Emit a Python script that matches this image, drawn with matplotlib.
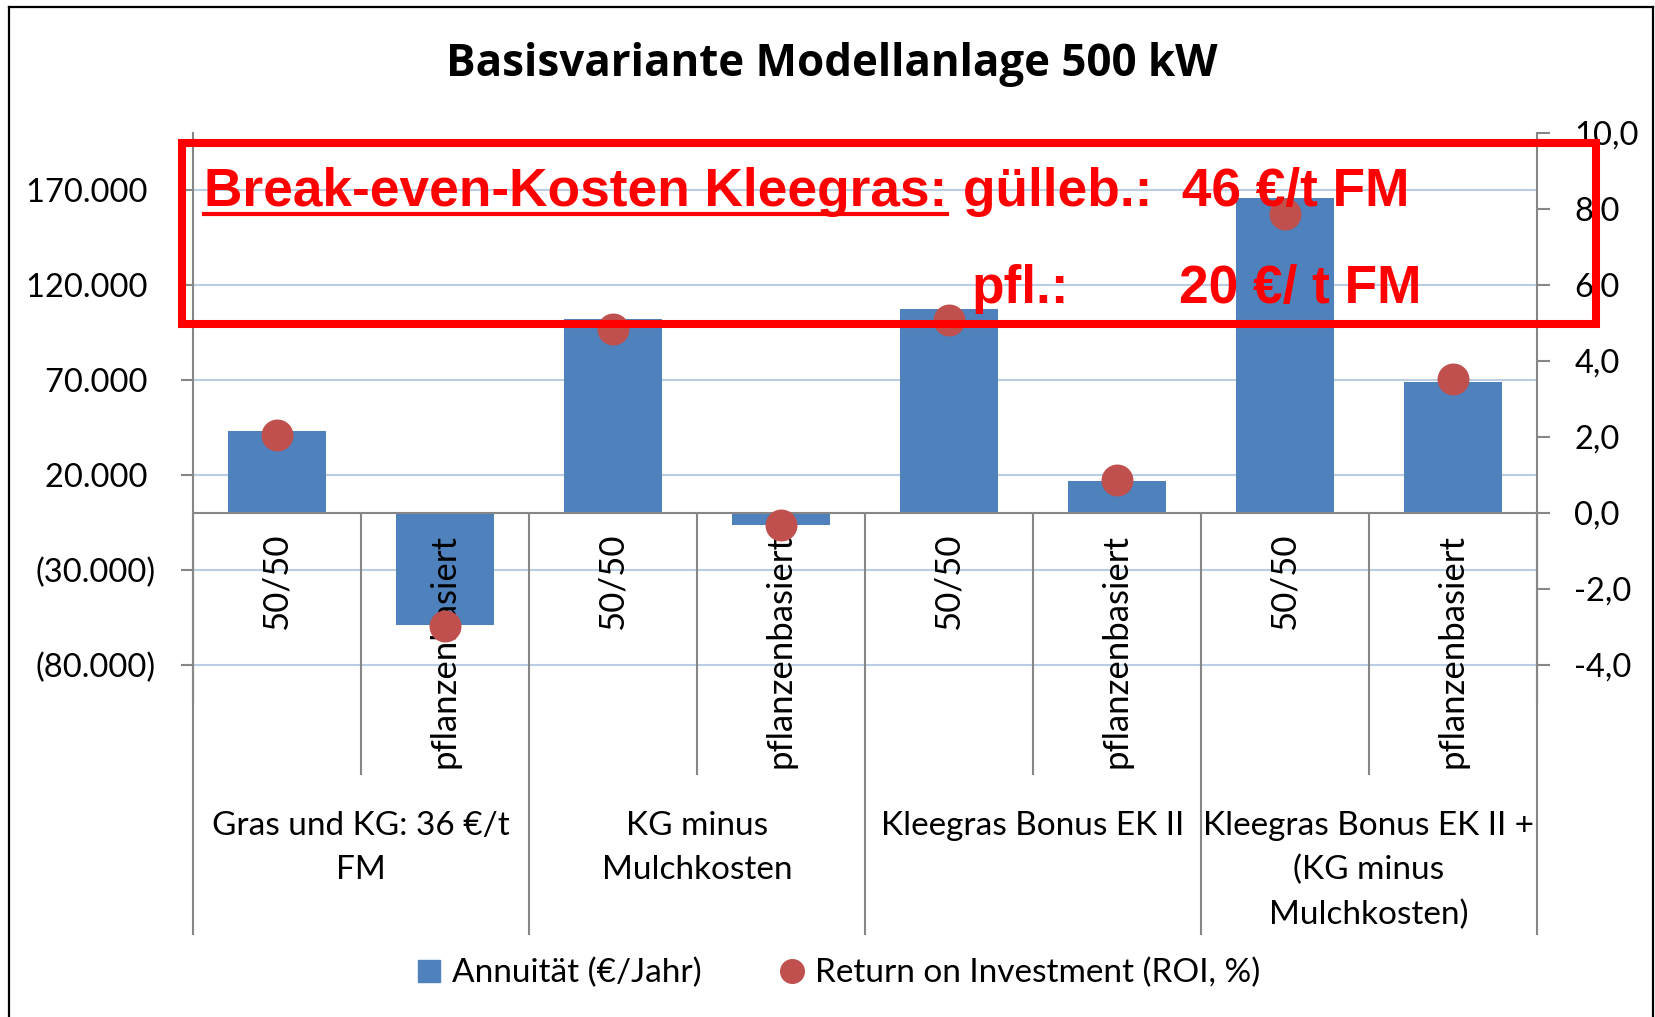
import matplotlib
matplotlib.use("Agg")
import matplotlib.pyplot as plt
from matplotlib.lines import Line2D
from matplotlib.patches import Rectangle, Patch
from matplotlib.ticker import FuncFormatter

plt.rcParams['font.family'] = ['Lato', 'DejaVu Sans']

# Daten
title = "Basisvariante Modellanlage 500 kW"
sub_labels = ["50/50", "pflanzenbasiert"] * 4
group_labels = ["Gras und KG: 36 €/t\nFM", "KG minus\nMulchkosten",
                "Kleegras Bonus EK II", "Kleegras Bonus EK II +\n(KG minus\nMulchkosten)"]
annuitaet = [43300, -58900, 102200, -6100, 107200, 16700, 165600, 68900]
roi = [2.06, -2.97, 4.83, -0.31, 5.08, 0.86, 7.86, 3.53]
left_ticks = [-80000, -30000, 20000, 70000, 120000, 170000]
right_ticks = [-4, -2, 0, 2, 4, 6, 8, 10]

BLUE = "#4F81BD"
RED_DOT = "#C0504D"
GRID = "#B9CDE5"
AXCOL = "#868686"
RED = "#FF0000"

fig = plt.figure(figsize=(16.55, 10.17), dpi=100)
ax = fig.add_axes([0.1166, 0.3088, 0.8121, 0.5605])
ax2 = ax.twinx()

x = list(range(len(annuitaet)))
ax.bar(x, annuitaet, width=0.585, color=BLUE, zorder=2)
ax.set_xlim(-0.5, 7.5)
ax.set_ylim(-100000, 200000)
ax.set_yticks(left_ticks)
ax.yaxis.set_major_formatter(FuncFormatter(
    lambda v, p: f"({abs(v):,.0f})".replace(",", ".") if v < 0 else f"{v:,.0f} ".replace(",", ".")))
ax.set_xticks([])
ax.yaxis.grid(True, color=GRID, lw=1.5, zorder=0)
ax.set_axisbelow(True)
ax.axhline(0, color=AXCOL, lw=1.5, zorder=3)
ax.tick_params(axis='y', direction='out', length=9, width=1.5, color=AXCOL,
               labelsize=23.5, pad=18)
for s in ["top", "bottom", "right"]:
    ax.spines[s].set_visible(False)
ax.spines["left"].set_color(AXCOL)
ax.spines["left"].set_linewidth(1.5)

ax2.plot(x, roi, "o", ms=22, color=RED_DOT, ls="none", zorder=4)
ax2.set_ylim(-5, 10)
ax2.set_yticks(right_ticks)
ax2.yaxis.set_major_formatter(FuncFormatter(lambda v, p: f"{v:.1f}".replace(".", ",")))
ax2.tick_params(axis='y', direction='out', length=9, width=1.5, color=AXCOL,
                labelsize=23.5, pad=18)
for s in ["top", "bottom", "left"]:
    ax2.spines[s].set_visible(False)
ax2.spines["right"].set_color(AXCOL)
ax2.spines["right"].set_linewidth(1.5)

# Kategorie-Trennlinien und Beschriftungen
tr = ax.get_xaxis_transform()
zero_frac = 1 / 3
for b in [-0.5, 1.5, 3.5, 5.5, 7.5]:
    ax.plot([b, b], [zero_frac, -0.405], color=AXCOL, lw=1.5, transform=tr, clip_on=False)
for b in [0.5, 2.5, 4.5, 6.5]:
    ax.plot([b, b], [zero_frac, -0.124], color=AXCOL, lw=1.5, transform=tr, clip_on=False)

for i, lab in enumerate(sub_labels):
    ax.annotate(lab, xy=(i, zero_frac), xycoords=tr, xytext=(0, -15),
                textcoords="offset points", rotation=90, ha="center", va="top",
                fontsize=25, zorder=5)

for g, lab in enumerate(group_labels):
    ax.text(2 * g + 0.5, -0.189, lab, transform=tr, ha="center", va="top",
            fontsize=24, linespacing=1.59)

fig.text(0.5027, 0.937, title, ha="center", va="center", fontsize=31.6,
         fontweight="bold", family=["Open Sans", "DejaVu Sans"])

# Legende
handles = [Patch(color=BLUE), Line2D([], [], marker="o", color=RED_DOT, ls="none", ms=17)]
fig.legend(handles, ["Annuität (€/Jahr)", "Return on Investment (ROI, %)"],
           loc="center", bbox_to_anchor=(0.507, 0.043), ncol=2, frameon=False,
           fontsize=24, handlelength=0.65, handleheight=0.65, handletextpad=0.35,
           columnspacing=2.4)

# roter Kasten mit Break-even-Text
fig.add_artist(Rectangle((0.1097, 0.6814), 0.8547, 0.1775, transform=fig.transFigure,
                         fill=False, ec=RED, lw=5.8, zorder=6))
rfont = dict(family=["Liberation Sans", "DejaVu Sans"], fontweight="bold", fontsize=38.3,
             color=RED, va="baseline", ha="left", zorder=7)
t1 = fig.text(0.1233, 0.7975, "Break-even-Kosten Kleegras:", **rfont)
fig.text(0.5817, 0.7975, "gülleb.:  46 €/t FM", **rfont)
fig.text(0.5868, 0.702, "pfl.:", **rfont)
fig.text(0.7124, 0.702, "20 €/ t FM", **rfont)

fig.canvas.draw()
bb = t1.get_window_extent().transformed(fig.transFigure.inverted())
uy = 0.7975 - 8 / 1017
fig.add_artist(Line2D([bb.x0, bb.x1], [uy, uy], color=RED, lw=3, transform=fig.transFigure))

# Rahmen
fr = dict(color="black", lw=1.6, transform=fig.transFigure)
fig.add_artist(Line2D([0.0054, 0.0054], [0, 0.9931], **fr))
fig.add_artist(Line2D([0.0054, 0.9988], [0.9931, 0.9931], **fr))
fig.add_artist(Line2D([0.9988, 0.9988], [0.9931, 0], **fr))

fig.savefig("out.png", dpi=100)
